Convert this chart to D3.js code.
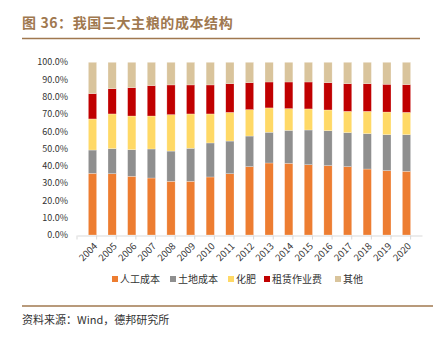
<!DOCTYPE html>
<meta charset="utf-8">
<style>
body { margin: 0; background: #fff; }
svg text { font-family: "Noto Sans CJK SC", "DejaVu Sans", sans-serif; }
.axis path { stroke: #d9d9d9; }
.axis line { stroke: #d9d9d9; }
.axis text { font-size: 9.5px; fill: #333; }
</style>
<script src="https://cdn.jsdelivr.net/npm/d3@7/dist/d3.min.js"></script>
<body>
<script>

var years = ["2004","2005","2006","2007","2008","2009","2010","2011","2012",
             "2013","2014","2015","2016","2017","2018","2019","2020"];
var seriesNames = ["人工成本", "土地成本", "化肥", "租赁作业费", "其他"];
var labor  = [35.7,35.5,34.0,33.0,31.1,31.1,33.6,35.5,39.6,41.7,41.5,40.7,40.2,39.6,38.2,37.3,36.9];
var land   = [13.5,14.5,15.4,16.8,17.5,19.1,19.7,18.9,17.7,17.8,19.1,20.1,20.2,19.7,20.5,20.8,21.2];
var fert   = [18.0,20.1,19.5,19.1,21.1,19.9,16.8,16.6,15.3,14.1,12.6,12.2,12.0,12.3,12.9,13.1,12.9];
var lease  = [14.7,14.6,16.4,17.6,17.2,16.8,16.8,16.6,15.6,15.0,15.4,15.6,15.8,16.0,16.0,16.1,16.1];
var other  = [18.1,15.3,14.7,13.5,13.1,13.1,13.1,12.4,11.8,11.4,11.4,11.4,11.8,12.4,12.4,12.7,12.9];
var yTicks = [0,10,20,30,40,50,60,70,80,90,100];

var colors = ["#ED7D31", "#8F8F8F", "#FFD966", "#C00000", "#D9C49C"];

var width = 441, height = 338;
var svg = d3.select("body").append("svg")
    .attr("width", width)
    .attr("height", height);

// title + rules
svg.append("text")
    .attr("x", 22).attr("y", 28)
    .style("font-size", "14px").style("font-weight", "bold")
    .style("letter-spacing", "0.6px")
    .style("fill", "#A0784F")
    .text("图 36：我国三大主粮的成本结构");
svg.append("line")
    .attr("x1", 22).attr("x2", 420).attr("y1", 38.5).attr("y2", 38.5)
    .style("stroke", "#A0784F").style("stroke-width", 1.5);
svg.append("line")
    .attr("x1", 22).attr("x2", 433).attr("y1", 306).attr("y2", 306)
    .style("stroke", "#A0784F").style("stroke-width", 1.5);
svg.append("text")
    .attr("x", 22).attr("y", 324)
    .style("font-size", "11px").style("fill", "#333")
    .text("资料来源：Wind，德邦研究所");

var table = years.map(function(y, i) {
  return {year: y, "人工成本": labor[i], "土地成本": land[i], "化肥": fert[i],
          "租赁作业费": lease[i], "其他": other[i]};
});

var x = d3.scaleBand().domain(years).range([77, 422]).padding(0.58);
var y = d3.scaleLinear().domain([0, 100]).range([235, 62.3]);
var color = d3.scaleOrdinal().domain(seriesNames).range(colors);

var stacked = d3.stack().keys(seriesNames)(table);

// y labels (no axis line)
svg.append("g").selectAll("text")
    .data(yTicks)
    .enter().append("text")
    .attr("x", 68)
    .attr("y", function(d) { return y(d); })
    .attr("dy", "0.35em")
    .attr("text-anchor", "end")
    .style("font-size", "9px").style("fill", "#333")
    .text(function(d) { return d.toFixed(1) + "%"; });

svg.append("g").selectAll("g")
    .data(stacked)
    .enter().append("g")
    .style("fill", function(d) { return color(d.key); })
    .selectAll("rect")
    .data(function(d) { return d; })
    .enter().append("rect")
    .attr("x", function(d) { return x(d.data.year); })
    .attr("width", x.bandwidth())
    .attr("y", function(d) { return y(d[1]); })
    .attr("height", function(d) { return y(d[0]) - y(d[1]); })
    .style("stroke", "rgba(255,255,255,0.5)")
    .style("stroke-width", 0.5);

var xAxis = d3.axisBottom(x).tickSize(0).tickSizeOuter(0);
var gx = svg.append("g")
    .attr("class", "axis")
    .attr("transform", "translate(0,235.5)")
    .call(xAxis);
gx.selectAll("text")
    .attr("text-anchor", "end")
    .attr("x", 0).attr("y", 0)
    .attr("dx", 0)
    .attr("dy", "0.35em")
    .attr("transform", "translate(3,9) rotate(-45)");

// small ticks between bands
gx.selectAll(".sep")
    .data(years.concat(["end"]))
    .enter().append("line")
    .attr("class", "sep")
    .attr("x1", function(d, i) { return 77 + i * x.step(); })
    .attr("x2", function(d, i) { return 77 + i * x.step(); })
    .attr("y1", 0).attr("y2", 4)
    .style("stroke", "#d9d9d9");

// legend
var legendX = [112, 170, 228, 264, 335];
var lg = svg.append("g").selectAll("g")
    .data(seriesNames)
    .enter().append("g")
    .attr("transform", function(d, i) { return "translate(" + legendX[i] + ",279)"; });
lg.append("rect")
    .attr("x", 0).attr("y", -3).attr("width", 6).attr("height", 6)
    .style("fill", function(d) { return color(d); });
lg.append("text")
    .attr("x", 8).attr("y", 0).attr("dy", "0.35em")
    .style("font-size", "10px").style("fill", "#333")
    .text(function(d) { return d; });

</script>
</body>
